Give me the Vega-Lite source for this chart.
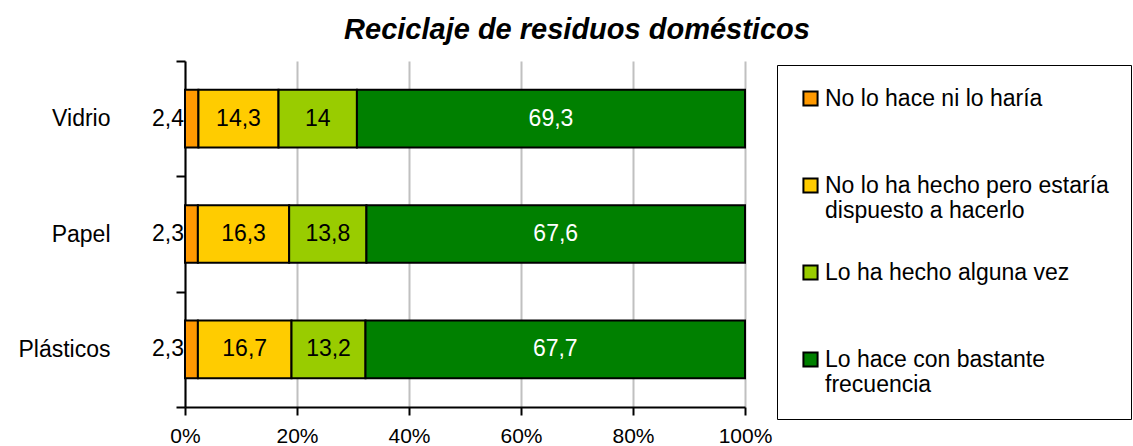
{
  "$schema": "https://vega.github.io/schema/vega-lite/v6.json",
  "autosize": "none",
  "width": 560,
  "height": 346,
  "padding": {"left": 185, "top": 61, "right": 388, "bottom": 39},
  "title": {
    "text": "Reciclaje de residuos domésticos",
    "font": "Liberation Sans",
    "fontSize": 29,
    "fontStyle": "italic",
    "fontWeight": "bold",
    "color": "black",
    "anchor": "middle",
    "frame": "group",
    "dx": 112,
    "baseline": "alphabetic",
    "offset": -18
  },
  "data": {
    "values": [
      {"cat": "Vidrio", "resp": "No lo hace ni lo haría", "o": 1, "v": 2.4},
      {"cat": "Vidrio", "resp": "No lo ha hecho pero estaría dispuesto a hacerlo", "o": 2, "v": 14.3},
      {"cat": "Vidrio", "resp": "Lo ha hecho alguna vez", "o": 3, "v": 14},
      {"cat": "Vidrio", "resp": "Lo hace con bastante frecuencia", "o": 4, "v": 69.3},
      {"cat": "Papel", "resp": "No lo hace ni lo haría", "o": 1, "v": 2.3},
      {"cat": "Papel", "resp": "No lo ha hecho pero estaría dispuesto a hacerlo", "o": 2, "v": 16.3},
      {"cat": "Papel", "resp": "Lo ha hecho alguna vez", "o": 3, "v": 13.8},
      {"cat": "Papel", "resp": "Lo hace con bastante frecuencia", "o": 4, "v": 67.6},
      {"cat": "Plásticos", "resp": "No lo hace ni lo haría", "o": 1, "v": 2.3},
      {"cat": "Plásticos", "resp": "No lo ha hecho pero estaría dispuesto a hacerlo", "o": 2, "v": 16.7},
      {"cat": "Plásticos", "resp": "Lo ha hecho alguna vez", "o": 3, "v": 13.2},
      {"cat": "Plásticos", "resp": "Lo hace con bastante frecuencia", "o": 4, "v": 67.7}
    ]
  },
  "encoding": {
    "y": {
      "field": "cat",
      "type": "nominal",
      "sort": ["Vidrio", "Papel", "Plásticos"],
      "scale": {"paddingInner": 0, "paddingOuter": 0},
      "axis": {
        "title": null,
        "tickBand": "extent",
        "labelFont": "Liberation Sans",
        "labelFontSize": 23,
        "labelColor": "black",
        "labelPadding": 66,
        "tickSize": 9,
        "tickWidth": 2,
        "tickColor": "black",
        "domainColor": "black",
        "domainWidth": 2,
        "grid": false
      }
    }
  },
  "layer": [
    {
      "mark": {"type": "bar", "height": {"band": 0.5}, "stroke": "black", "strokeWidth": 2},
      "encoding": {
        "x": {
          "field": "v",
          "type": "quantitative",
          "stack": "normalize",
          "scale": {"domain": [0, 1]},
          "axis": {
            "title": null,
            "values": [0, 0.2, 0.4, 0.6, 0.8, 1],
            "format": "%",
            "labelFlush": false,
            "labelFont": "Liberation Sans",
            "labelFontSize": 21,
            "labelColor": "black",
            "labelPadding": 10,
            "tickSize": 8,
            "tickWidth": 2,
            "tickColor": "black",
            "domainColor": "black",
            "domainWidth": 2,
            "grid": true,
            "gridColor": "#c0c0c0",
            "gridWidth": 2
          }
        },
        "color": {
          "field": "resp",
          "type": "nominal",
          "scale": {
            "domain": ["No lo hace ni lo haría", "No lo ha hecho pero estaría dispuesto a hacerlo", "Lo ha hecho alguna vez", "Lo hace con bastante frecuencia"],
            "range": ["#FF9900", "#FFCC00", "#99CC00", "#008000"]
          },
          "legend": {
            "title": null,
            "orient": "none",
            "legendX": 592,
            "legendY": 4,
            "padding": 22,
            "strokeColor": "black",
            "symbolType": "square",
            "symbolSize": 200,
            "symbolStrokeColor": "black",
            "symbolStrokeWidth": 2,
            "symbolOpacity": 1,
            "labelFont": "Liberation Sans",
            "labelFontSize": 23,
            "labelColor": "black",
            "labelLimit": 500,
            "labelOffset": 3,
            "rowPadding": 38,
            "labelExpr": "datum.label == 'No lo ha hecho pero estaría dispuesto a hacerlo' ? ['No lo ha hecho pero estaría', 'dispuesto a hacerlo'] : datum.label == 'Lo hace con bastante frecuencia' ? ['Lo hace con bastante', 'frecuencia'] : [datum.label, '']"
          }
        },
        "order": {"field": "o"}
      }
    },
    {
      "mark": {"type": "text", "font": "Liberation Sans", "fontSize": 23, "align": "center", "baseline": "middle"},
      "encoding": {
        "x": {"field": "v", "type": "quantitative", "stack": "normalize", "bandPosition": 0.5},
        "detail": {"field": "resp"},
        "order": {"field": "o"},
        "text": {
          "condition": {"test": "datum.o == 1", "value": ""},
          "field": "v", "type": "quantitative", "format": ".1~f"
        },
        "color": {
          "condition": {"test": "datum.o == 4", "value": "white"},
          "value": "black"
        }
      }
    },
    {
      "transform": [{"filter": "datum.o == 1"}],
      "mark": {"type": "text", "font": "Liberation Sans", "fontSize": 23, "align": "right", "baseline": "middle", "dx": -1, "color": "black"},
      "encoding": {
        "x": {"datum": 0, "type": "quantitative"},
        "text": {"field": "v", "type": "quantitative", "format": ".1~f"}
      }
    }
  ],
  "config": {
    "view": {"stroke": null},
    "locale": {
      "number": {"decimal": ",", "thousands": ".", "grouping": [3], "currency": ["", " €"]}
    }
  }
}
